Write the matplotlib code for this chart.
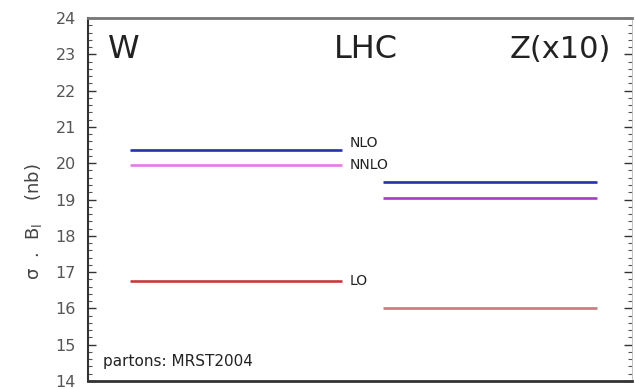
import matplotlib
matplotlib.use("Agg")
import matplotlib.pyplot as plt
from matplotlib.ticker import MultipleLocator

plt.rcParams['font.family'] = ['DejaVu Sans']

orders = ["NLO", "NNLO", "LO"]
w_values = [20.35, 19.95, 16.75]
z_values = [19.47, 19.05, 16.0]
w_colors = ["#2233aa", "#e47ae8", "#c83a3a"]
z_colors = ["#2233aa", "#a43cc8", "#d4747c"]
w_span = (0.077, 0.467)
z_span = (0.542, 0.936)

fig = plt.figure(figsize=(6.35, 3.89), dpi=100)
ax = fig.add_axes([0.139, 1 - 381 / 389, 0.856, (381 - 18) / 389])
ax.set_xlim(0, 1)
ax.set_ylim(14, 24)

label_offsets = {"NLO": 0.2, "NNLO": 0.0, "LO": 0.0}
for lab, v, c in zip(orders, w_values, w_colors):
    ax.hlines(v, *w_span, color=c, lw=1.9)
    ax.text(w_span[1] + 0.013, v + label_offsets[lab], lab,
            fontsize=10, va="center", ha="left", color="#222222")
for v, c in zip(z_values, z_colors):
    ax.hlines(v, *z_span, color=c, lw=1.9)

ax.text(0.036, 23.12, "W", fontsize=23, va="center", ha="left", color="#222222")
ax.text(0.452, 23.12, "LHC", fontsize=23, va="center", ha="left", color="#222222")
ax.text(0.775, 23.12, "Z(x10)", fontsize=22, va="center", ha="left", color="#222222")
ax.text(0.027, 14.55, "partons: MRST2004", fontsize=11, va="center", ha="left", color="#222222")

fig.text(33 / 635, 1 - 222 / 389, r"σ  .  B$_{\mathrm{l}}$    (nb)", rotation=90,
         fontsize=13, color="#444444", ha="center", va="center")

ax.yaxis.set_major_locator(MultipleLocator(1))
ax.yaxis.set_minor_locator(MultipleLocator(0.2))
ax.tick_params(axis="y", which="major", direction="in", length=6, width=1, right=True,
               labelsize=11.5, labelcolor="#555555", color="#333333", pad=9)
ax.tick_params(axis="y", which="minor", direction="in", length=3, width=0.8, right=True,
               color="#555555")
ax.set_xticks([])

ax.spines["top"].set_linewidth(2)
ax.spines["top"].set_color("#777777")
ax.spines["bottom"].set_linewidth(2)
ax.spines["bottom"].set_color("#333333")
ax.spines["left"].set_linewidth(1.5)
ax.spines["left"].set_color("#333333")
ax.spines["right"].set_linewidth(0.6)
ax.spines["right"].set_color("#bbbbbb")

fig.savefig("out.png", dpi=100)
